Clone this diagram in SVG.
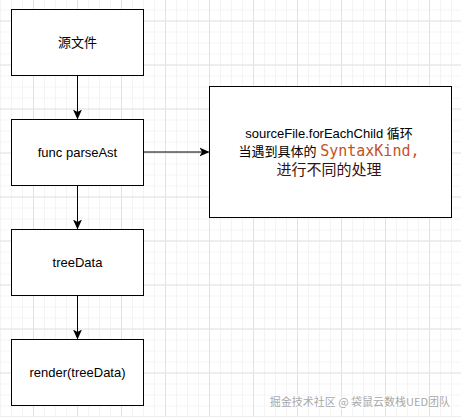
<svg xmlns="http://www.w3.org/2000/svg" width="461" height="417" viewBox="0 0 461 417">
  <defs>
    <pattern id="minor" x="0" y="9.5" width="11" height="11" patternUnits="userSpaceOnUse">
      <path d="M0 0.5H11M0.5 0V11" fill="none" stroke="#f4f4f4" stroke-width="1"/>
    </pattern>
    <pattern id="major" x="33" y="20.5" width="44" height="44" patternUnits="userSpaceOnUse">
      <path d="M0 0H44M0 0V44" fill="none" stroke="#e2e2e2" stroke-width="1" transform="translate(0.5,0.5)"/>
    </pattern>
    <marker id="arrow" viewBox="0 0 10 10" refX="9" refY="5" markerWidth="10" markerHeight="10" markerUnits="userSpaceOnUse" orient="auto">
      <path d="M0 0.5L10 5L0 9.5L2.5 5Z" fill="#000"/>
    </marker>
    <style>
      .box { fill: #fff; stroke: #000; stroke-width: 1; }
      .lbl { font-family: "Liberation Sans", Arial, "Noto Sans CJK SC", sans-serif; font-size: 13px; fill: #000; text-anchor: middle; }
      .edge { fill: none; stroke: #000; stroke-width: 1; marker-end: url(#arrow); }
      .mono { font-family: "DejaVu Sans Mono", monospace; font-size: 15px; fill: #c4521e; }
      .wm { font-family: "Noto Sans CJK SC", sans-serif; font-size: 11px; fill: #a8a8a8; text-anchor: end; }
    </style>
  </defs>
  <rect width="461" height="417" fill="#fff"/>
  <rect width="461" height="417" fill="url(#minor)"/>
  <rect width="461" height="417" fill="url(#major)"/>

  <g id="connectors">
    <path class="edge" d="M77.5 75V118.5"/>
    <path class="edge" d="M77.5 185V228.5"/>
    <path class="edge" d="M77.5 295V338.5"/>
    <path class="edge" d="M143.5 152H208.5"/>
  </g>

  <g id="node-source">
    <rect class="box" x="11.5" y="9.5" width="132" height="66"/>
    <text class="lbl" x="77.5" y="47">源文件</text>
  </g>
  <g id="node-parseAst">
    <rect class="box" x="11.5" y="119.5" width="132" height="66"/>
    <text class="lbl" x="77.5" y="157">func parseAst</text>
  </g>
  <g id="node-treeData">
    <rect class="box" x="11.5" y="229.5" width="132" height="66"/>
    <text class="lbl" x="77.5" y="267">treeData</text>
  </g>
  <g id="node-render">
    <rect class="box" x="11.5" y="339.5" width="132" height="66"/>
    <text class="lbl" x="77.5" y="377">render(treeData)</text>
  </g>
  <g id="node-desc">
    <rect class="box" x="209.5" y="86.5" width="242" height="131"/>
    <text class="lbl" x="329" y="138">sourceFile.forEachChild 循环</text>
    <text class="lbl" x="329" y="156">当遇到具体的 <tspan class="mono">SyntaxKind,</tspan></text>
    <text class="lbl" x="329" y="175" style="font-size:15px;fill:#3a1111">进行不同的处理</text>
  </g>

  <text class="wm" x="450" y="406" stroke="#fff" stroke-width="2" paint-order="stroke">掘金技术社区 @ 袋鼠云数栈UED团队</text>
</svg>
